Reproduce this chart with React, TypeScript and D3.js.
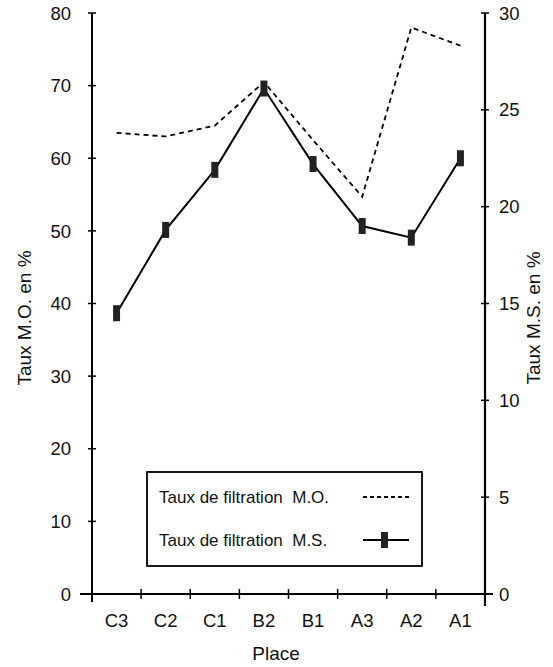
import React from "react";
import * as d3 from "d3";

const places = ["C3", "C2", "C1", "B2", "B1", "A3", "A2", "A1"];
const tauxMO = [63.5, 63.0, 64.5, 70.5, 62.5, 54.7, 78.0, 75.5];
const tauxMS = [14.5, 18.8, 21.9, 26.1, 22.2, 19.0, 18.4, 22.5];
const leftTicks = [0, 10, 20, 30, 40, 50, 60, 70, 80];
const rightTicks = [0, 5, 10, 15, 20, 25, 30];

const W = 553;
const H = 667;
const FONT = "'Liberation Sans', Arial, Helvetica, sans-serif";

export default function App() {
  const x = d3.scaleBand<string>().domain(places).range([92, 485]);
  const yL = d3.scaleLinear().domain([0, 80]).range([594, 13]);
  const yR = d3.scaleLinear().domain([0, 30]).range([594, 13]);
  const cx = (p: string) => (x(p) ?? 0) + x.bandwidth() / 2;

  const lineMO = d3
    .line<number>()
    .x((_, i) => cx(places[i]))
    .y((d) => yL(d));
  const lineMS = d3
    .line<number>()
    .x((_, i) => cx(places[i]))
    .y((d) => yR(d));

  const left = 92;
  const right = 485;
  const base = yL(0);
  const boundaries = places.slice(1).map((p) => x(p) ?? 0);

  return (
    <svg
      width={W}
      height={H}
      style={{ position: "absolute", left: 0, top: 0, background: "#fff" }}
      fontFamily={FONT}
      fill="#111"
    >
      {/* axes */}
      <line x1={left} x2={left} y1={yL(80)} y2={base + 8} stroke="#000" strokeWidth={2} />
      <line x1={right} x2={right} y1={yR(30)} y2={base + 12} stroke="#000" strokeWidth={2.2} />
      <line x1={left - 12} x2={right + 8} y1={base} y2={base} stroke="#000" strokeWidth={2} />

      {leftTicks.map((t) => (
        <g key={"l" + t}>
          <line x1={left - 4} x2={left + 4} y1={yL(t)} y2={yL(t)} stroke="#000" strokeWidth={1.5} />
          <text x={71} y={yL(t)} dy="0.36em" textAnchor="end" fontSize={18.5}>
            {t}
          </text>
        </g>
      ))}
      {rightTicks.map((t) => (
        <g key={"r" + t}>
          <line x1={right - 4} x2={right + 4} y1={yR(t)} y2={yR(t)} stroke="#000" strokeWidth={1.5} />
          <text x={499} y={yR(t)} dy="0.36em" textAnchor="start" fontSize={18.5}>
            {t}
          </text>
        </g>
      ))}
      {boundaries.map((b, i) => (
        <line key={"b" + i} x1={b} x2={b} y1={base - 5} y2={base + 5} stroke="#000" strokeWidth={1.5} />
      ))}
      {places.map((p) => (
        <text key={p} x={cx(p)} y={627} textAnchor="middle" fontSize={18.5}>
          {p}
        </text>
      ))}

      <text x={276} y={660} textAnchor="middle" fontSize={19}>
        Place
      </text>
      <text transform="translate(31,318) rotate(-90)" textAnchor="middle" fontSize={19}>
        Taux M.O. en %
      </text>
      <text transform="translate(540,318) rotate(-90)" textAnchor="middle" fontSize={19}>
        Taux M.S. en %
      </text>

      {/* series */}
      <path d={lineMO(tauxMO) ?? ""} fill="none" stroke="#000" strokeWidth={1.8} strokeDasharray="5,4" />
      <path d={lineMS(tauxMS) ?? ""} fill="none" stroke="#000" strokeWidth={2} />
      {tauxMS.map((v, i) => (
        <rect key={i} x={cx(places[i]) - 3.5} y={yR(v) - 8} width={7} height={16} fill="#222" />
      ))}

      {/* legend */}
      <rect x={147} y={472} width={275} height={94} fill="#fff" stroke="#000" strokeWidth={1.8} />
      <text x={159} y={503} fontSize={17} style={{ whiteSpace: "pre" }}>
        {"Taux de filtration  M.O."}
      </text>
      <line x1={363} x2={409} y1={497} y2={497} stroke="#000" strokeWidth={1.8} strokeDasharray="4,3" />
      <text x={159} y={546} fontSize={17} style={{ whiteSpace: "pre" }}>
        {"Taux de filtration  M.S."}
      </text>
      <line x1={363} x2={409} y1={540} y2={540} stroke="#000" strokeWidth={2} />
      <rect x={381} y={532} width={7} height={16} fill="#222" />
    </svg>
  );
}
